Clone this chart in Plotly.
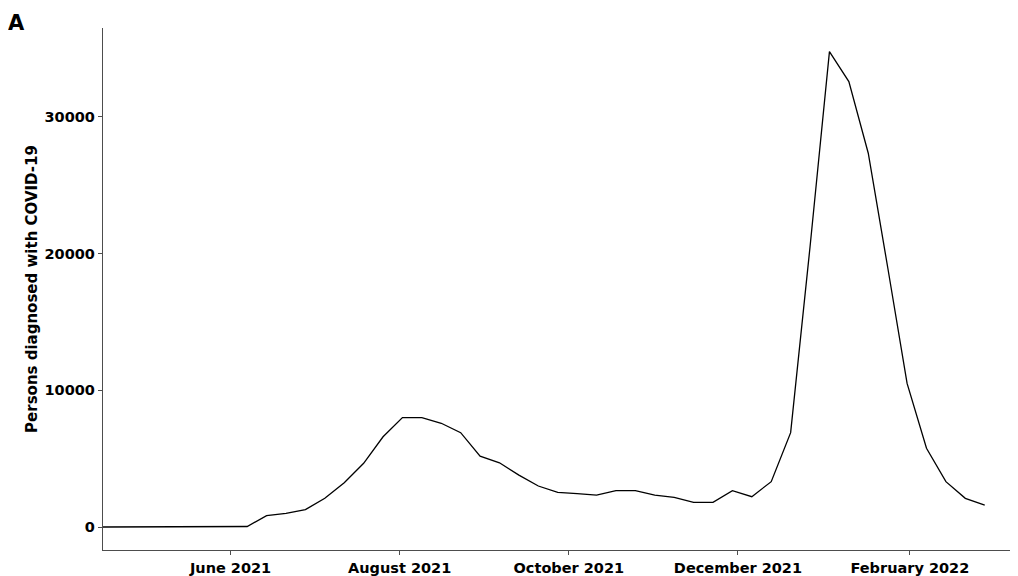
import plotly.graph_objects as go

weeks = [
    "2021-04-12", "2021-04-19", "2021-04-26", "2021-05-03", "2021-05-10",
    "2021-05-17", "2021-05-24", "2021-05-31",
    "2021-06-07", "2021-06-14", "2021-06-21", "2021-06-28", "2021-07-05",
    "2021-07-12", "2021-07-19", "2021-07-26", "2021-08-02", "2021-08-09",
    "2021-08-16", "2021-08-23", "2021-08-30", "2021-09-06", "2021-09-13",
    "2021-09-20", "2021-09-27", "2021-10-04", "2021-10-11", "2021-10-18",
    "2021-10-25", "2021-11-01", "2021-11-08", "2021-11-15", "2021-11-22",
    "2021-11-29", "2021-12-06", "2021-12-13", "2021-12-20", "2021-12-27",
    "2022-01-03", "2022-01-10", "2022-01-17", "2022-01-24", "2022-01-31",
    "2022-02-07", "2022-02-14", "2022-02-21", "2022-02-28",
]
cases = [
    0, 0, 0, 0, 0, 0, 0, 0,
    40, 830, 1000, 1270, 2100,
    3240, 4660, 6600, 8000, 8000,
    7590, 6900, 5190, 4700, 3800,
    3000, 2540, 2450, 2340, 2660,
    2660, 2340, 2170, 1800, 1800,
    2660, 2220, 3320, 6900, 20500,
    34770, 32580, 27340, 19000, 10500,
    5760, 3320, 2100, 1610,
]

x_tick_vals = ["2021-06-01", "2021-08-01", "2021-10-01", "2021-12-01", "2022-02-01"]
x_tick_text = ["June 2021", "August 2021", "October 2021", "December 2021", "February 2022"]
y_tick_vals = [0, 10000, 20000, 30000]
y_tick_text = ["0", "10000", "20000", "30000"]

axis_col = "#4d4d4d"
font_family = "DejaVu Sans"

fig = go.Figure()
fig.add_trace(go.Scatter(
    x=weeks, y=cases, mode="lines",
    line=dict(color="black", width=1.3),
    showlegend=False, hoverinfo="x+y",
))

fig.update_layout(
    width=1010, height=568,
    margin=dict(l=95, r=0, t=20, b=26, autoexpand=False),
    paper_bgcolor="white", plot_bgcolor="white",
    font=dict(family=font_family, color="black"),
    xaxis=dict(
        type="date",
        range=["2021-04-16", "2022-03-12"],
        tickvals=x_tick_vals, ticktext=x_tick_text,
        tickfont=dict(size=14.5, weight="bold", color="black"),
        showgrid=False, zeroline=False,
        showline=True, linecolor=axis_col, linewidth=1.3,
        ticks="outside", ticklen=4, tickcolor=axis_col, tickwidth=1.3,
    ),
    yaxis=dict(
        range=[-1680, 36500],
        tickvals=y_tick_vals, ticktext=y_tick_text,
        tickfont=dict(size=14.5, weight="bold", color="black"),
        showgrid=False, zeroline=False,
        showline=True, linecolor=axis_col, linewidth=1.3,
        ticks="outside", ticklen=4, tickcolor=axis_col, tickwidth=1.3,
        title=dict(text="Persons diagnosed with COVID-19",
                   font=dict(size=15, weight="bold", color="black"),
                   standoff=3),
    ),
    annotations=[dict(
        text="A", xref="paper", yref="paper",
        x=-0.106, y=1.036, xanchor="left", yanchor="top",
        showarrow=False,
        font=dict(size=21, weight="bold", color="black", family=font_family),
    )],
)

fig.write_html("out.html")
